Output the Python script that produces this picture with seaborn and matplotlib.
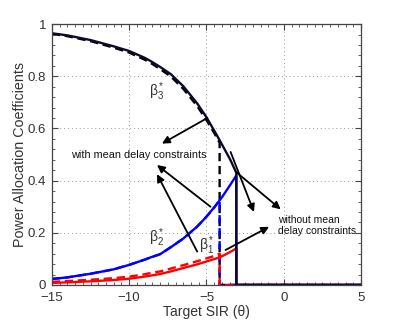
"""Power allocation coefficients vs target SIR, with and without mean delay constraints."""

import matplotlib
matplotlib.use("Agg")
import matplotlib.pyplot as plt
from matplotlib.ticker import MultipleLocator
import pandas as pd
import seaborn as sns

# Values (theta in dB)
theta_solid = [-15, -14, -12.5, -11, -10, -9, -8.6, -8, -7.3, -6.5, -5.6, -5, -4.3, -3.9, -3.45, -3.07, -3.07, 5]
beta3_solid = [0.965, 0.957, 0.939, 0.915, 0.897, 0.871, 0.858, 0.836, 0.808, 0.762, 0.696, 0.643, 0.571, 0.528, 0.479, 0.43, 0, 0]
beta2_solid = [0.023, 0.029, 0.043, 0.06, 0.077, 0.097, 0.106, 0.118, 0.145, 0.178, 0.224, 0.262, 0.312, 0.345, 0.385, 0.42, 0, 0]
beta1_solid = [0.008, 0.01, 0.014, 0.019, 0.024, 0.032, 0.036, 0.042, 0.052, 0.065, 0.079, 0.09, 0.103, 0.113, 0.127, 0.14, 0, 0]

theta_dash = [-15, -14, -12.5, -11, -10, -9, -8.6, -8, -7.3, -6.5, -5.6, -5, -4.5, -4.15, -4.15, 5]
beta3_dash = [0.963, 0.954, 0.935, 0.91, 0.891, 0.864, 0.851, 0.828, 0.799, 0.752, 0.686, 0.632, 0.583, 0.545, 0, 0]
beta2_dash = [0.023, 0.029, 0.043, 0.06, 0.077, 0.097, 0.106, 0.118, 0.145, 0.178, 0.224, 0.262, 0.297, 0.326, 0, 0]
beta1_dash = [0.012, 0.015, 0.02, 0.026, 0.032, 0.041, 0.046, 0.052, 0.063, 0.076, 0.091, 0.102, 0.111, 0.12, 0, 0]

x_ticks = [-15, -10, -5, 0, 5]
y_ticks = [0, 0.2, 0.4, 0.6, 0.8, 1]
y_tick_labels = ["0", "0.2", "0.4", "0.6", "0.8", "1"]

sns.set_style("white")
plt.rcParams["font.family"] = ["Liberation Sans", "DejaVu Sans"]
plt.rcParams["mathtext.fontset"] = "custom"
plt.rcParams["mathtext.rm"] = "Liberation Sans"
plt.rcParams["mathtext.it"] = "Liberation Sans"

TEXT = "#333333"

fig = plt.figure(figsize=(3.99, 3.22), dpi=100)
ax = fig.add_axes([0.130, 0.115, 0.775, 0.81])

solid = pd.DataFrame({"theta": theta_solid, "b1": beta1_solid, "b2": beta2_solid, "b3": beta3_solid})
dash = pd.DataFrame({"theta": theta_dash, "b1": beta1_dash, "b2": beta2_dash, "b3": beta3_dash})

lw = 1.7
for col, color in [("b3", "black"), ("b2", "blue"), ("b1", "red")]:
    sns.lineplot(data=dash, x="theta", y=col, color=color, lw=lw, ls=(0, (3.5, 2)),
                 estimator=None, sort=False, ax=ax)
for col, color in [("b1", "red"), ("b2", "blue"), ("b3", "#0b0b2a")]:
    sns.lineplot(data=solid, x="theta", y=col, color=color, lw=lw,
                 estimator=None, sort=False, ax=ax)

ax.set_xlim(-15, 5)
ax.set_ylim(0, 1)
ax.set_xticks(x_ticks)
ax.set_xticklabels([str(t).replace("-", "\u2212") for t in x_ticks])
ax.set_yticks(y_ticks)
ax.set_yticklabels(y_tick_labels)
ax.xaxis.set_minor_locator(MultipleLocator(0.5))
ax.yaxis.set_minor_locator(MultipleLocator(0.04))
ax.tick_params(which="both", direction="in", bottom=True, left=True, top=True, right=True,
               colors="#444444", labelcolor=TEXT, labelsize=9.5)
ax.tick_params(which="major", length=4, width=0.8)
ax.tick_params(which="minor", length=2.5, width=0.6)
ax.tick_params(axis="x", pad=5)
ax.tick_params(axis="y", pad=4)
ax.grid(True, which="major", ls=(0, (1, 3)), color="#999999", lw=0.7)
for sp in ax.spines.values():
    sp.set_color("#444444")
    sp.set_linewidth(0.9)

ax.set_xlabel("Target SIR (\u03b8)", fontsize=10, color=TEXT, labelpad=1)
ax.set_ylabel("Power Allocation Coefficients", fontsize=10.3, color=TEXT, labelpad=1)

# curve labels
ax.text(-8.2, 0.74, "\u03b2$_3^*$", fontsize=10, color=TEXT, ha="center", va="center")
ax.text(-8.2, 0.18, "\u03b2$_2^*$", fontsize=10, color=TEXT, ha="center", va="center")
ax.text(-5.0, 0.15, "\u03b2$_1^*$", fontsize=10, color=TEXT, ha="center", va="center")

ax.text(-9.35, 0.498, "with mean delay constraints", fontsize=7.8, color="#111111",
        ha="center", va="center")
ax.text(-0.4, 0.227, "without mean\ndelay constraints", fontsize=7.5, color="#111111",
        ha="left", va="center", linespacing=1.1)

arrow = dict(arrowstyle="-|>", color="black", lw=1.3, mutation_scale=11,
             shrinkA=0, shrinkB=0)
# arrows towards "with mean delay constraints"
ax.annotate("", xy=(-7.88, 0.542), xytext=(-4.95, 0.64), arrowprops=arrow)
ax.annotate("", xy=(-8.2, 0.46), xytext=(-4.74, 0.30), arrowprops=arrow)
ax.annotate("", xy=(-8.2, 0.425), xytext=(-5.6, 0.128), arrowprops=arrow)
# arrows towards "without mean delay constraints"
ax.annotate("", xy=(-1.93, 0.28), xytext=(-3.44, 0.51), arrowprops=arrow)
ax.annotate("", xy=(-0.2, 0.29), xytext=(-3.1, 0.434), arrowprops=arrow)
ax.annotate("", xy=(-0.95, 0.223), xytext=(-3.77, 0.134), arrowprops=arrow)

fig.savefig("out.png", dpi=100)
